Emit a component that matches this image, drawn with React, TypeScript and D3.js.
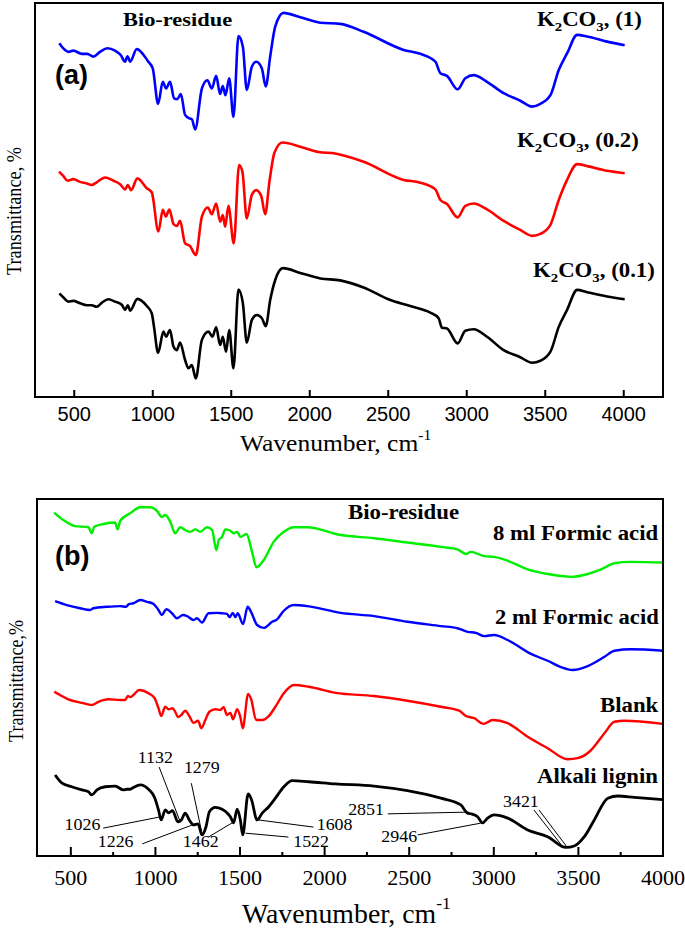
import React from "react";
import * as d3 from "d3";

type Pt = [number, number];

// ---------- Panel (a): K2CO3 series (wavenumber, relative transmittance) ----------
const aK1: Pt[] = [[405,89.8],[430,88.5],[462,87.6],[494,87.9],[548,87.1],[583,87.1],[622,86.4],[664,87.6],[711,88.5],[760,87.9],[796,86.8],[824,85.1],[839,86.5],[856,85.1],[898,88.3],[972,85.1],[1000,83.4],[1034,74.4],[1064,80.0],[1085,78.3],[1110,80.0],[1136,75.8],[1157,75.6],[1179,76.9],[1206,71.6],[1234,70.7],[1249,70.5],[1270,67.9],[1313,78.3],[1348,80.4],[1376,78.3],[1404,81.5],[1429,76.9],[1446,78.9],[1463,76.6],[1487,80.9],[1514,71.1],[1546,91.6],[1574,88.9],[1599,77.9],[1631,83.8],[1659,85.1],[1695,83.4],[1720,78.8],[1748,86.4],[1780,94.0],[1833,97.5],[1939,96.4],[2067,95.0],[2194,94.7],[2343,92.7],[2598,88.1],[2704,87.1],[2800,85.1],[2832,82.2],[2874,81.5],[2942,78.1],[2991,80.9],[3044,81.7],[3129,80.0],[3235,77.1],[3341,75.2],[3416,73.7],[3469,74.4],[3533,76.6],[3586,83.0],[3639,87.2],[3703,91.9],[3767,91.5],[3894,90.2],[4006,89.3]];

const aK02: Pt[] = [[403,57.2],[430,56.1],[458,54.9],[494,55.3],[537,54.6],[580,54.2],[611,53.8],[643,54.5],[696,55.7],[749,54.9],[792,54.0],[824,52.7],[841,53.8],[862,52.5],[902,55.5],[962,53.0],[994,51.9],[1036,42.0],[1064,47.5],[1083,45.8],[1106,47.6],[1132,43.9],[1153,43.4],[1174,44.7],[1206,39.0],[1238,38.3],[1274,36.0],[1313,45.8],[1351,48.1],[1376,46.4],[1404,49.1],[1429,44.5],[1446,46.2],[1461,43.2],[1482,48.5],[1516,39.0],[1550,58.9],[1571,57.2],[1599,45.3],[1631,51.3],[1659,52.5],[1691,51.0],[1716,46.4],[1743,54.6],[1775,62.0],[1826,64.6],[1950,63.4],[2056,62.2],[2162,61.8],[2343,59.7],[2598,55.1],[2704,54.4],[2800,52.7],[2832,50.0],[2874,49.0],[2942,45.6],[2991,48.5],[3044,49.1],[3129,47.6],[3235,44.7],[3341,42.4],[3416,40.9],[3469,41.4],[3533,43.7],[3586,50.0],[3639,55.1],[3703,59.1],[3767,58.6],[3894,57.4],[4006,56.8]];

const aK01: Pt[] = [[405,26.3],[430,25.3],[462,24.2],[494,24.4],[537,23.8],[580,23.3],[611,23.3],[643,22.9],[675,23.9],[717,24.8],[760,24.2],[803,23.4],[824,22.1],[841,23.3],[856,21.9],[902,24.9],[962,23.1],[994,21.2],[1008,17.8],[1034,11.2],[1068,16.6],[1085,15.3],[1110,17.0],[1132,12.8],[1153,11.9],[1174,13.8],[1206,9.4],[1227,7.3],[1249,8.1],[1274,4.7],[1313,14.5],[1355,16.6],[1380,15.3],[1404,17.7],[1429,13.2],[1446,15.3],[1467,11.5],[1487,17.0],[1514,7.3],[1546,27.3],[1574,23.8],[1599,13.8],[1631,19.5],[1663,20.8],[1695,20.0],[1720,18.0],[1748,24.6],[1780,29.7],[1829,32.7],[1939,31.5],[2067,30.1],[2194,29.6],[2343,27.8],[2513,24.6],[2640,23.1],[2768,21.4],[2821,20.0],[2842,17.6],[2874,17.4],[2942,13.6],[2991,16.8],[3044,17.2],[3129,15.3],[3235,11.9],[3341,10.1],[3416,8.7],[3469,9.2],[3533,11.5],[3586,17.8],[3639,22.1],[3703,27.2],[3767,26.6],[3894,25.5],[4006,24.8]];

// ---------- Panel (b): formic acid series ----------
const b8ml: Pt[] = [[401,96.2],[456,94.1],[525,92.4],[604,92.1],[624,90.4],[638,92.2],[693,93.0],[762,93.4],[776,91.5],[792,93.9],[851,96.0],[910,97.7],[969,97.7],[1009,96.7],[1038,95.0],[1058,95.5],[1088,93.6],[1117,90.4],[1147,92.1],[1176,91.3],[1206,90.8],[1236,91.5],[1265,90.8],[1305,92.1],[1335,91.3],[1360,85.7],[1374,88.5],[1394,89.4],[1413,91.5],[1443,91.1],[1463,90.4],[1483,90.8],[1502,89.4],[1538,90.2],[1571,85.2],[1597,80.9],[1640,82.9],[1699,88.0],[1759,90.8],[1818,92.1],[1897,92.1],[2094,89.9],[2292,89.0],[2489,87.8],[2687,86.6],[2785,85.9],[2835,84.6],[2864,85.2],[2943,84.0],[3002,83.8],[3082,82.7],[3200,80.3],[3318,79.0],[3456,78.2],[3555,79.0],[3634,80.3],[3713,82.0],[3812,82.4],[3999,82.2]];

const b2ml: Pt[] = [[407,71.4],[476,70.3],[555,69.4],[614,68.9],[633,69.4],[713,69.8],[792,70.0],[827,69.8],[841,70.5],[870,70.8],[910,71.7],[950,71.2],[989,70.6],[1018,68.9],[1038,67.5],[1064,69.1],[1098,68.0],[1127,66.6],[1163,67.5],[1187,67.2],[1226,66.1],[1246,66.6],[1275,65.4],[1314,68.0],[1364,68.1],[1394,68.0],[1423,67.8],[1439,66.9],[1457,68.1],[1473,66.9],[1486,68.0],[1518,65.0],[1545,69.8],[1565,68.4],[1601,64.7],[1640,63.9],[1690,65.6],[1719,66.3],[1759,68.7],[1818,70.3],[1897,70.0],[2094,68.1],[2292,67.2],[2489,65.6],[2687,64.4],[2785,63.8],[2845,62.8],[2894,62.5],[2943,61.6],[3002,61.9],[3082,60.5],[3220,56.6],[3318,54.7],[3397,52.9],[3466,52.1],[3555,53.2],[3654,55.8],[3713,57.5],[3812,57.9],[3999,57.5]];

const bBlank: Pt[] = [[402,46.0],[436,45.1],[485,43.9],[565,42.9],[624,42.3],[663,43.2],[722,43.9],[792,43.7],[821,43.7],[837,44.8],[851,44.5],[870,45.1],[904,46.5],[959,45.6],[995,44.2],[1018,41.4],[1034,39.2],[1058,41.8],[1078,41.1],[1101,41.4],[1117,40.4],[1133,38.9],[1153,39.5],[1176,40.7],[1200,39.2],[1226,37.3],[1252,37.9],[1271,35.8],[1295,38.1],[1319,40.4],[1354,41.1],[1384,40.9],[1403,41.7],[1423,39.5],[1443,40.1],[1459,38.3],[1483,41.1],[1502,38.9],[1516,35.8],[1548,45.4],[1567,43.7],[1595,38.1],[1631,38.1],[1670,39.2],[1709,41.8],[1759,45.6],[1818,47.9],[1907,47.4],[2065,45.7],[2292,44.8],[2489,43.5],[2687,41.8],[2795,40.7],[2835,39.2],[2884,38.6],[2939,37.0],[2993,38.1],[3082,37.2],[3200,33.4],[3318,30.2],[3437,27.1],[3496,27.4],[3565,29.2],[3654,34.4],[3713,37.6],[3772,37.9],[3999,37.0]];

const bLignin: Pt[] = [[407,22.7],[446,20.5],[505,19.4],[565,18.5],[604,18.0],[624,17.1],[654,18.5],[703,19.4],[762,19.6],[811,18.5],[831,18.7],[851,18.7],[870,19.2],[910,19.9],[959,18.7],[995,16.4],[1018,12.9],[1034,10.1],[1058,12.9],[1078,12.1],[1101,12.7],[1133,9.6],[1153,10.1],[1176,12.0],[1200,10.1],[1226,8.7],[1252,9.0],[1275,5.9],[1299,8.2],[1319,12.4],[1354,13.6],[1394,13.1],[1423,12.1],[1443,11.0],[1462,9.3],[1483,13.1],[1502,10.1],[1516,5.9],[1548,17.4],[1567,15.9],[1601,10.1],[1631,12.0],[1670,13.8],[1709,16.2],[1759,19.4],[1808,21.1],[1907,20.8],[2065,20.2],[2292,19.6],[2489,18.3],[2687,16.2],[2805,14.3],[2845,12.0],[2868,11.8],[2904,11.0],[2933,9.3],[2963,10.6],[3002,11.5],[3082,10.6],[3200,7.3],[3318,5.4],[3427,2.4],[3476,2.8],[3535,5.4],[3594,10.1],[3674,16.2],[3733,16.8],[3831,16.4],[3999,15.8]];

// Peak annotations of alkali lignin: label, label pos (wn, T), leader start (wn, T), leader end (wn, T)
const peakLabels: string[] = ["1132","1279","1026","1226","1462","1522","1608","2851","2946","3421","3421"];
const peakText: Pt[] = [[999,26.1],[1274,23.2],[569,7.3],[765,2.5],[1268,2.5],[1920,2.5],[2059,7.3],[2245,11.5],[2441,3.9],[3160,13.7],[3160,13.7]];
const peakFrom: Pt[] = [[1022,24.9],[1212,20.4],[691,7.8],[922,3.4],[1313,5.3],[1786,5.3],[1934,8.1],[2373,11.8],[2550,5.9],[3237,12.9],[3267,12.9]];
const peakTo: Pt[] = [[1147,9.5],[1277,5.9],[1022,10.9],[1218,8.7],[1461,9.5],[1532,6.4],[1609,10.1],[2852,12.3],[2923,9.2],[3409,2.5],[3433,2.5]];

const xTicks: number[] = [500, 1000, 1500, 2000, 2500, 3000, 3500, 4000];
const xMinorB: number[] = [750, 1250, 1750, 2250, 2750, 3250, 3750];

const SERIF = "'Liberation Serif', 'Times New Roman', Times, serif";
const SANS = "'Liberation Sans', Arial, Helvetica, sans-serif";

const xA = d3.scaleLinear().domain([250, 4250]).range([35, 663]);
const yA = d3.scaleLinear().domain([0, 100]).range([397, 3]);
const xB = d3.scaleLinear().domain([300, 4000]).range([37, 663]);
const yB = d3.scaleLinear().domain([0, 100]).range([856, 499]);

function linePath(x: d3.ScaleLinear<number, number>, y: d3.ScaleLinear<number, number>, data: Pt[]) {
  return d3.line<Pt>().x(d => x(d[0])).y(d => y(d[1])).curve(d3.curveMonotoneX)(data) || "";
}

function Lbl(props: { x: number; y: number; sx?: number; size: number; bold?: boolean; family?: string; anchor?: string; children: any }) {
  const { x, y, sx = 1, size, bold, family = SERIF, anchor = "start", children } = props;
  return (
    <text transform={`translate(${x},${y}) scale(${sx},1)`} fontFamily={family} fontSize={size}
      fontWeight={bold ? "bold" : "normal"} textAnchor={anchor} fill="#000">
      {children}
    </text>
  );
}

function K2CO3(props: { x: number; y: number; suffix: string }) {
  return (
    <text transform={`translate(${props.x},${props.y}) scale(1.14,1)`} fontFamily={SERIF} fontSize={20} fontWeight="bold">
      <tspan>K</tspan>
      <tspan fontSize={13} dy={5}>2</tspan>
      <tspan dy={-5}>CO</tspan>
      <tspan fontSize={13} dy={5}>3</tspan>
      <tspan dy={-5}>{", " + props.suffix}</tspan>
    </text>
  );
}

export default function App() {
  return (
    <svg width={685} height={928} style={{ position: "absolute", left: 0, top: 0, display: "block", background: "#fff" }}>
      <rect x={0} y={0} width={685} height={928} fill="#fff" />
      {/* ---------- Panel (a) ---------- */}
      <g>
        {xTicks.map(t => (
          <line key={"ta" + t} x1={xA(t)} x2={xA(t)} y1={397} y2={390} stroke="#000" strokeWidth={2} />
        ))}
        {xTicks.map(t => (
          <text key={"la" + t} x={xA(t)} y={421} textAnchor="middle" fontFamily={SANS} fontSize={20} fill="#000">{t}</text>
        ))}
        <path d={linePath(xA, yA, aK1)} fill="none" stroke="#0000ff" strokeWidth={2.6} strokeLinejoin="round" />
        <path d={linePath(xA, yA, aK02)} fill="none" stroke="#ff0000" strokeWidth={2.6} strokeLinejoin="round" />
        <path d={linePath(xA, yA, aK01)} fill="none" stroke="#000" strokeWidth={2.6} strokeLinejoin="round" />
        <rect x={35} y={3} width={628} height={394} fill="none" stroke="#000" strokeWidth={2} />
        <Lbl x={123} y={26} size={19} bold sx={1.18}>Bio-residue</Lbl>
        <Lbl x={55} y={84} size={27} bold family={SANS}>(a)</Lbl>
        <K2CO3 x={537} y={26} suffix="(1)" />
        <K2CO3 x={517} y={147} suffix="(0.2)" />
        <K2CO3 x={533} y={277} suffix="(0.1)" />
        <text transform="translate(240,451) scale(1.11,1)" fontFamily={SERIF} fontSize={23} fill="#000">
          Wavenumber, cm<tspan fontSize={14} dy={-11}>-1</tspan>
        </text>
        <text transform="translate(21,211) rotate(-90)" textAnchor="middle" fontFamily={SERIF} fontSize={22}
          textLength={128} lengthAdjust="spacingAndGlyphs" fill="#000">Transmittance, %</text>
      </g>

      {/* ---------- Panel (b) ---------- */}
      <g>
        {xTicks.map(t => (
          <line key={"tb" + t} x1={xB(t)} x2={xB(t)} y1={856} y2={847} stroke="#000" strokeWidth={2} />
        ))}
        {xMinorB.map(t => (
          <line key={"mb" + t} x1={xB(t)} x2={xB(t)} y1={856} y2={852} stroke="#000" strokeWidth={2} />
        ))}
        {xTicks.map(t => (
          <text key={"lb" + t} transform={`translate(${xB(t)},885) scale(1.05,1)`} textAnchor="middle" fontFamily={SERIF} fontSize={21} fill="#000">{t}</text>
        ))}
        <path d={linePath(xB, yB, b8ml)} fill="none" stroke="#00ee00" strokeWidth={2.4} strokeLinejoin="round" />
        <path d={linePath(xB, yB, b2ml)} fill="none" stroke="#0000ff" strokeWidth={2.4} strokeLinejoin="round" />
        <path d={linePath(xB, yB, bBlank)} fill="none" stroke="#ff0000" strokeWidth={2.4} strokeLinejoin="round" />
        <path d={linePath(xB, yB, bLignin)} fill="none" stroke="#000" strokeWidth={2.8} strokeLinejoin="round" />
        {peakLabels.map((lab, i) => (
          <line key={"pl" + i} x1={xB(peakFrom[i][0])} y1={yB(peakFrom[i][1])} x2={xB(peakTo[i][0])} y2={yB(peakTo[i][1])}
            stroke="#000" strokeWidth={1} />
        ))}
        {peakLabels.map((lab, i) => (i > 0 && peakLabels[i - 1] === lab ? null :
          <Lbl key={"pt" + i} x={xB(peakText[i][0])} y={yB(peakText[i][1])} size={16} sx={1.12} anchor="middle">{lab}</Lbl>
        ))}
        <rect x={37} y={499} width={626} height={357} fill="none" stroke="#000" strokeWidth={2} />
        <Lbl x={55} y={565} size={27} bold family={SANS}>(b)</Lbl>
        <Lbl x={348} y={519} size={20} bold sx={1.14}>Bio-residue</Lbl>
        <Lbl x={493} y={540} size={20} bold sx={1.14}>8 ml Formic acid</Lbl>
        <Lbl x={495} y={624} size={20} bold sx={1.13}>2 ml Formic acid</Lbl>
        <Lbl x={600} y={712} size={20} bold sx={1.14}>Blank</Lbl>
        <Lbl x={537} y={783} size={20} bold sx={1.14}>Alkali lignin</Lbl>
        <text transform="translate(242,923) scale(1.03,1)" fontFamily={SERIF} fontSize={27} fill="#000">
          Wavenumber, cm<tspan fontSize={17} dy={-14}>-1</tspan>
        </text>
        <text transform="translate(23,681) rotate(-90)" textAnchor="middle" fontFamily={SERIF} fontSize={22}
          textLength={122} lengthAdjust="spacingAndGlyphs" fill="#000">Transmittance,%</text>
      </g>
    </svg>
  );
}
